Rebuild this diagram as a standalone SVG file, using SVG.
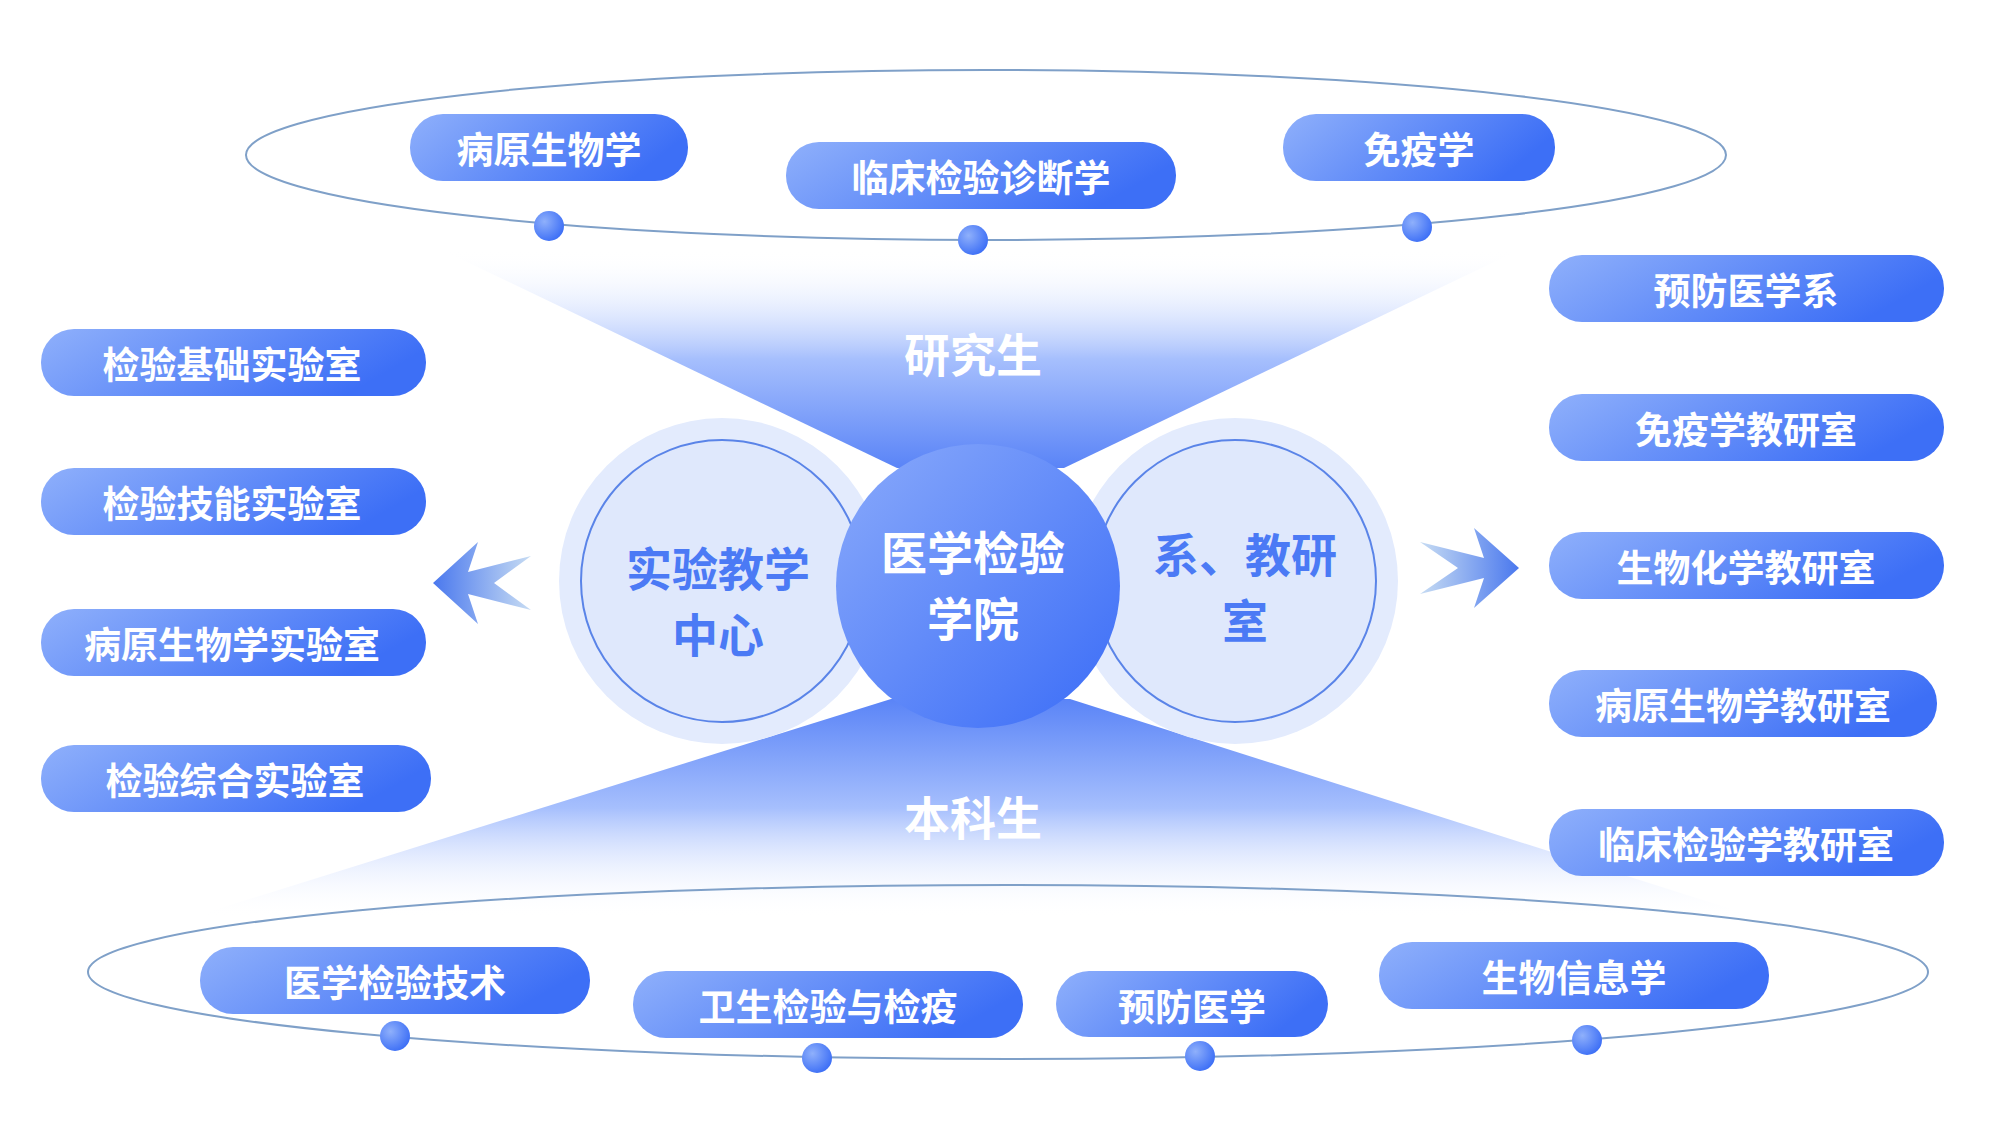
<svg xmlns="http://www.w3.org/2000/svg" width="2000" height="1125" viewBox="0 0 2000 1125">
<defs>
<linearGradient id="pill" x1="0" y1="0" x2="1" y2="0.3"><stop offset="0" stop-color="#8fb0fb"/><stop offset="1" stop-color="#3d6ff6"/></linearGradient>
<linearGradient id="ftop" x1="0" y1="0" x2="0" y2="1"><stop offset="0" stop-color="#ffffff" stop-opacity="0"/><stop offset="0.5" stop-color="#a6bffd"/><stop offset="1" stop-color="#5a84f7"/></linearGradient>
<linearGradient id="fbot" x1="0" y1="0" x2="0" y2="1"><stop offset="0" stop-color="#5a84f7"/><stop offset="0.5" stop-color="#a6bffd"/><stop offset="1" stop-color="#ffffff" stop-opacity="0"/></linearGradient>
<linearGradient id="core" x1="0" y1="0" x2="1" y2="1"><stop offset="0" stop-color="#8aaafb"/><stop offset="1" stop-color="#3a6cf7"/></linearGradient>
<radialGradient id="dot" cx="0.35" cy="0.35" r="0.7"><stop offset="0" stop-color="#8fb0fb"/><stop offset="1" stop-color="#3d6ff6"/></radialGradient>
<linearGradient id="chevL" x1="0" y1="0" x2="1" y2="0"><stop offset="0" stop-color="#4a78ee"/><stop offset="1" stop-color="#c7dcf3"/></linearGradient>
<linearGradient id="chevR" x1="0" y1="0" x2="1" y2="0"><stop offset="0" stop-color="#c7dcf3"/><stop offset="1" stop-color="#4a78ee"/></linearGradient>
</defs>
<style>
.pill{fill:url(#pill)}
.pt{font-family:"Noto Sans CJK SC",sans-serif;font-weight:bold;font-size:37px;fill:#fff;text-anchor:middle;dominant-baseline:central}
.ring{fill:none;stroke:#7fa0c8;stroke-width:2}
.dot{fill:url(#dot)}
.big{font-family:"Noto Sans CJK SC",sans-serif;font-weight:bold;font-size:46px;text-anchor:middle}
</style>
<rect width="2000" height="1125" fill="#fff"/>
<g id="funnels">
<polygon points="442,250 1519,250 1064,468 897,468" fill="url(#ftop)"/>
<polygon points="891,699 1070,699 1756,917 192,917" fill="url(#fbot)"/>
</g>
<g id="rings">
<ellipse class="ring" cx="986" cy="155" rx="740" ry="85"/>
<ellipse class="ring" cx="1008" cy="972" rx="920" ry="87"/>
</g>
<g id="side-circles">
<circle cx="722" cy="581" r="163" fill="#e3ebfd"/>
<circle cx="722" cy="581" r="141" fill="#dfe8fc" stroke="#5a84e8" stroke-width="2"/>
<text class="big" x="718" y="586" fill="#4b7af5">实验教学</text>
<text class="big" x="718" y="652" fill="#4b7af5">中心</text>
<circle cx="1235" cy="581" r="163" fill="#e3ebfd"/>
<circle cx="1235" cy="581" r="141" fill="#dfe8fc" stroke="#5a84e8" stroke-width="2"/>
<text class="big" x="1245" y="572" fill="#4b7af5">系、教研</text>
<text class="big" x="1245" y="638" fill="#4b7af5">室</text>
</g>
<g id="core">
<circle cx="978" cy="586" r="142" fill="url(#core)"/>
<text class="big" x="973" y="570" fill="#fff">医学检验</text>
<text class="big" x="973" y="636" fill="#fff">学院</text>
</g>
<g id="labels">
<text class="big" x="973" y="372" fill="#fff">研究生</text>
<text class="big" x="973" y="835" fill="#fff">本科生</text>
</g>
<g id="arrows">
<polygon points="433,583 478,542 468,572 531,556 494,583 531,610 468,594 478,624" fill="url(#chevL)"/>
<polygon points="1519,568 1474,528 1484,558 1420,542 1458,568 1420,594 1484,578 1474,608" fill="url(#chevR)"/>
</g>
<g id="top-nodes">
<circle class="dot" cx="549" cy="226" r="15"/><circle class="dot" cx="973" cy="240" r="15"/><circle class="dot" cx="1417" cy="227" r="15"/>
<rect class="pill" x="410" y="114" width="278" height="67" rx="33"/><text class="pt" x="549" y="148">病原生物学</text>
<rect class="pill" x="786" y="142" width="390" height="67" rx="33"/><text class="pt" x="981" y="176">临床检验诊断学</text>
<rect class="pill" x="1283" y="114" width="272" height="67" rx="33"/><text class="pt" x="1419" y="148">免疫学</text>
</g>
<g id="bottom-nodes">
<circle class="dot" cx="395" cy="1036" r="15"/><circle class="dot" cx="817" cy="1058" r="15"/><circle class="dot" cx="1200" cy="1056" r="15"/><circle class="dot" cx="1587" cy="1040" r="15"/>
<rect class="pill" x="200" y="947" width="390" height="67" rx="33"/><text class="pt" x="395" y="981">医学检验技术</text>
<rect class="pill" x="633" y="971" width="390" height="67" rx="33"/><text class="pt" x="828" y="1005">卫生检验与检疫</text>
<rect class="pill" x="1056" y="971" width="272" height="66" rx="33"/><text class="pt" x="1192" y="1005">预防医学</text>
<rect class="pill" x="1379" y="942" width="390" height="67" rx="33"/><text class="pt" x="1574" y="976">生物信息学</text>
</g>
<g id="left-nodes">
<rect class="pill" x="41" y="329" width="385" height="67" rx="33"/><text class="pt" x="232" y="363">检验基础实验室</text>
<rect class="pill" x="41" y="468" width="385" height="67" rx="33"/><text class="pt" x="232" y="502">检验技能实验室</text>
<rect class="pill" x="41" y="609" width="385" height="67" rx="33"/><text class="pt" x="232" y="643">病原生物学实验室</text>
<rect class="pill" x="41" y="745" width="390" height="67" rx="33"/><text class="pt" x="235" y="779">检验综合实验室</text>
</g>
<g id="right-nodes">
<rect class="pill" x="1549" y="255" width="395" height="67" rx="33"/><text class="pt" x="1746" y="289">预防医学系</text>
<rect class="pill" x="1549" y="394" width="395" height="67" rx="33"/><text class="pt" x="1746" y="428">免疫学教研室</text>
<rect class="pill" x="1549" y="532" width="395" height="67" rx="33"/><text class="pt" x="1746" y="566">生物化学教研室</text>
<rect class="pill" x="1549" y="670" width="388" height="67" rx="33"/><text class="pt" x="1743" y="704">病原生物学教研室</text>
<rect class="pill" x="1549" y="809" width="395" height="67" rx="33"/><text class="pt" x="1746" y="843">临床检验学教研室</text>
</g>
</svg>
